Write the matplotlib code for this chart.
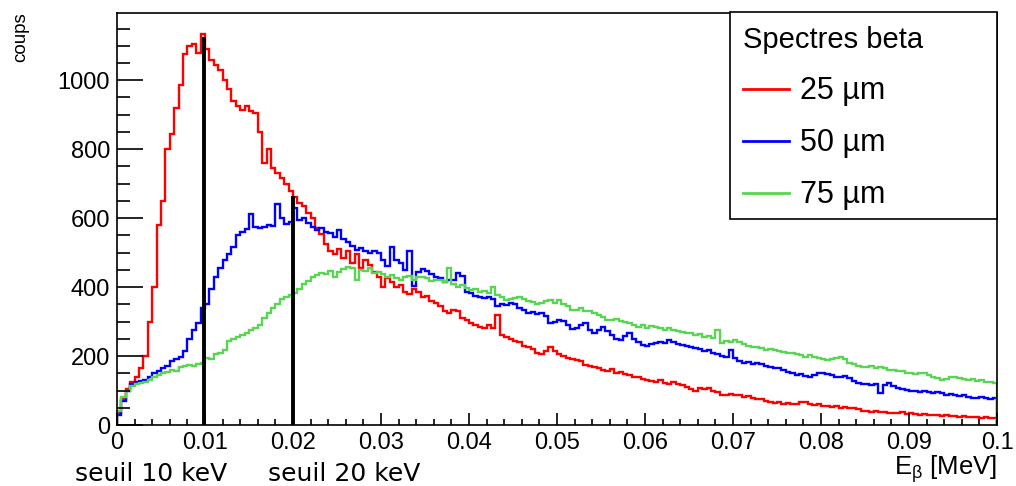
import numpy as np
import matplotlib
matplotlib.use("Agg")
import matplotlib.pyplot as plt
from matplotlib.patches import Rectangle
from matplotlib.lines import Line2D
from matplotlib import ticker

plt.rcParams['font.family'] = ['Liberation Sans', 'DejaVu Sans']
plt.rcParams['mathtext.fontset'] = 'custom'
plt.rcParams['mathtext.rm'] = 'Liberation Sans'
plt.rcParams['mathtext.it'] = 'Liberation Sans'

# histogram range (MeV), 200 bins of 0.5 keV
e_min, e_max, n_bins = 0.0, 0.1, 200

# counts per bin (10 bins per row = 5 keV)
counts_25um = [
    35, 75, 105, 125, 140, 165, 200, 300, 400, 580,
    650, 800, 845, 920, 985, 1075, 1100, 1105, 1080, 1135,
    1090, 1060, 1045, 1030, 1000, 975, 940, 925, 915, 925,
    910, 905, 850, 760, 800, 745, 730, 715, 700, 680,
    660, 645, 635, 615, 600, 570, 555, 525, 505, 495,
    510, 485, 505, 470, 495, 455, 480, 465, 445, 430,
    400, 425, 415, 400, 405, 385, 380, 395, 385, 370,
    375, 360, 355, 345, 330, 325, 335, 330, 310, 305,
    295, 290, 285, 280, 290, 280, 320, 260, 255, 250,
    245, 240, 230, 225, 220, 210, 205, 215, 225, 215,
    205, 200, 195, 190, 188, 185, 175, 172, 168, 165,
    160, 158, 162, 150, 155, 148, 145, 140, 138, 132,
    130, 128, 125, 130, 122, 118, 124, 120, 115, 110,
    105, 100, 108, 104, 106, 98, 95, 88, 86, 90,
    86, 88, 82, 84, 78, 76, 74, 70, 66, 64,
    66, 62, 64, 60, 62, 68, 66, 62, 58, 60,
    56, 54, 52, 55, 50, 52, 48, 50, 46, 42,
    40, 38, 40, 37, 38, 35, 36, 34, 37, 33,
    35, 32, 30, 33, 30, 28, 30, 27, 28, 26,
    27, 24, 25, 23, 22, 24, 20, 22, 19, 20,
]
counts_50um = [
    30, 70, 100, 118, 125, 128, 130, 138, 152, 158,
    165, 170, 185, 192, 198, 215, 248, 275, 295, 340,
    352, 395, 428, 455, 480, 497, 515, 550, 560, 568,
    612, 575, 570, 575, 580, 578, 640, 600, 582, 590,
    630, 596, 600, 585, 575, 565, 572, 560, 556, 545,
    565, 540, 530, 518, 508, 512, 505, 500, 505, 498,
    480, 460, 515, 478, 470, 450, 505, 402, 445, 452,
    448, 438, 430, 425, 415, 420, 422, 440, 432, 385,
    382, 375, 372, 368, 372, 365, 345, 350, 348, 355,
    352, 340, 335, 325, 328, 322, 325, 315, 295, 300,
    305, 302, 290, 278, 282, 290, 295, 275, 266, 275,
    285, 272, 262, 250, 246, 258, 266, 250, 240, 232,
    228, 236, 238, 242, 238, 246, 242, 236, 232, 230,
    227, 222, 220, 215, 217, 210, 205, 200, 198, 217,
    195, 185, 180, 182, 178, 180, 176, 172, 168, 165,
    165, 160, 155, 150, 145, 148, 142, 140, 145, 150,
    152, 148, 145, 140, 138, 142, 135, 128, 122, 120,
    118, 116, 120, 93, 115, 121, 112, 108, 104, 101,
    100, 98, 96, 98, 95, 93, 96, 92, 88, 90,
    87, 85, 88, 82, 79, 77, 80, 78, 76, 77,
]
counts_75um = [
    40, 82, 100, 112, 118, 122, 126, 130, 138, 145,
    150, 155, 160, 158, 168, 170, 174, 172, 178, 180,
    195, 192, 205, 210, 218, 245, 250, 256, 262, 268,
    275, 282, 290, 310, 325, 338, 352, 365, 372, 378,
    382, 395, 410, 418, 428, 435, 440, 438, 448, 430,
    445, 452, 458, 455, 420, 450, 448, 455, 440, 445,
    438, 430, 435, 425, 420, 428, 432, 420, 428, 430,
    425, 418, 422, 420, 415, 455, 410, 400, 405, 398,
    392, 395, 385, 388, 382, 400, 378, 370, 362, 365,
    368, 372, 365, 360, 358, 352, 355, 360, 362, 355,
    362, 350, 345, 335, 333, 338, 330, 332, 325, 318,
    312, 305, 304, 308, 302, 300, 295, 290, 285, 290,
    282, 288, 285, 280, 276, 282, 275, 272, 270, 268,
    266, 262, 264, 256, 258, 252, 275, 237, 244, 240,
    246, 242, 235, 230, 227, 225, 222, 218, 220, 217,
    215, 212, 210, 208, 206, 204, 198, 202, 196, 194,
    190, 188, 192, 195, 198, 192, 180, 176, 172, 169,
    168, 170, 166, 168, 164, 160, 159, 156, 158, 152,
    150, 148, 152, 150, 146, 140, 135, 130, 132, 138,
    140, 136, 134, 130, 132, 128, 130, 125, 124, 121,
]

series_labels = ['25 \u00b5m', '50 \u00b5m', '75 \u00b5m']
series_colors = ['#ff0000', '#0000ff', '#59d454']

# threshold markers: position (MeV) and height of the black line
seuil_pos = [0.0099, 0.0200]
seuil_top = [1125, 665]
seuil_text = ['seuil 10 keV', 'seuil 20 keV']

edges = np.linspace(e_min, e_max, n_bins + 1)

fig = plt.figure(figsize=(10.16, 4.86), dpi=100)
ax = fig.add_axes([117 / 1016, 1 - 425 / 486, 880 / 1016, 412 / 486])

for vals, col in zip([counts_25um, counts_50um, counts_75um], series_colors):
    ax.stairs(vals, edges, color=col, lw=1.7)

for xp, top in zip(seuil_pos, seuil_top):
    ax.plot([xp, xp], [0, top], color='black', lw=2.8, solid_capstyle='butt')

ax.set_xlim(e_min, e_max)
ax.set_ylim(0, 1195)

ax.xaxis.set_major_locator(ticker.MultipleLocator(0.01))
ax.xaxis.set_minor_locator(ticker.MultipleLocator(0.002))
ax.yaxis.set_major_locator(ticker.MultipleLocator(200))
ax.yaxis.set_minor_locator(ticker.MultipleLocator(50))
ax.xaxis.set_major_formatter(ticker.FuncFormatter(lambda v, p: '%g' % round(v, 4)))
ax.yaxis.set_major_formatter(ticker.FuncFormatter(lambda v, p: '%g' % v))

ax.tick_params(axis='x', which='major', direction='in', length=9, width=1.2, labelsize=17, pad=5)
ax.tick_params(axis='x', which='minor', direction='in', length=4.5, width=1.2)
ax.tick_params(axis='y', which='major', direction='in', length=19, width=1.2, labelsize=17, pad=5)
ax.tick_params(axis='y', which='minor', direction='in', length=9.5, width=1.2)
for s in ax.spines.values():
    s.set_linewidth(1.2)

fig.text(0.02, 0.975, 'coups', rotation=90, ha='center', va='top', fontsize=13.5)
fig.text(997 / 1016, 1 - 469 / 486, r'E$_{\beta}$ [MeV]', ha='right', va='center', fontsize=18.5)
fig.text(75 / 1016, 1 - 474 / 486, seuil_text[0], family='DejaVu Sans', fontsize=18, va='center')
fig.text(268 / 1016, 1 - 474 / 486, seuil_text[1], family='DejaVu Sans', fontsize=18, va='center')

# legend box (ROOT TLegend style)
fig.patches.append(Rectangle((730 / 1016, 1 - 219 / 486), 267 / 1016, 207 / 486,
                             transform=fig.transFigure, facecolor='white',
                             edgecolor='black', lw=1.2, zorder=5))
handles = [Line2D([], [], color=c, lw=2) for c in series_colors]
leg = fig.legend(handles, series_labels, title='Spectres beta', loc='upper left',
                 bbox_to_anchor=(722 / 1016, 1 - 5 / 486), frameon=False,
                 fontsize=22, title_fontsize=21, alignment='left',
                 handlelength=1.5, handletextpad=0.35, labelspacing=0.72,
                 borderpad=0.2)
leg.set_zorder(6)

fig.savefig('out.png', dpi=100)
